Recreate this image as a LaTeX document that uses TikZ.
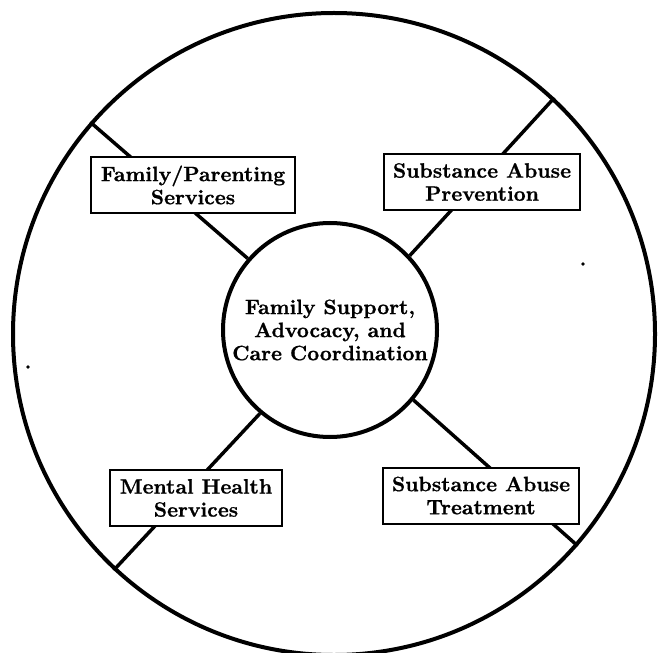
\documentclass[tikz,border=0pt]{standalone}
\usepackage{fontspec}
\setmainfont{lmroman10-regular.otf}[BoldFont=lmroman10-bold.otf,BoldFeatures={FakeBold=0.8}]
\begin{document}
\begin{tikzpicture}[x=0.75pt,y=-0.75pt,
  ring/.style={circle,draw,inner sep=0pt,line width=3pt},
  spoke/.style={line width=2.6pt},
  labelfont/.style={font=\fontsize{15.6}{17.3}\selectfont\bfseries},
  svcbox/.style={draw,fill=white,line width=1.5pt,align=center,inner xsep=7pt,inner ysep=0pt,minimum height=42pt,labelfont},
  dot/.style={circle,fill,inner sep=0pt,minimum size=2.8pt}]
\useasboundingbox (0,0) rectangle (659,652);
\node[ring,minimum size=481.5pt] (outer) at (334,334) {};
\node[ring,minimum size=160.5pt,fill=white,align=center,labelfont] (inner) at (330,330)
  {Family Support,\\Advocacy, and\\Care Coordination};
\draw[spoke] (inner.139) -- (outer.139);
\draw[spoke] (inner.43) -- (outer.47);
\draw[spoke] (inner.230) -- (outer.227);
\draw[spoke] (inner.320) -- (outer.319.5);
\node[svcbox] (fam) at (193,185) {Family/Parenting\\Services};
\node[svcbox] (prev) at (482,182) {Substance Abuse\\Prevention};
\node[svcbox] (mh) at (196,498) {Mental Health\\Services};
\node[svcbox] (treat) at (481,495.5) {Substance Abuse\\Treatment};
\node[dot] (d1) at (583,264) {};
\node[dot] (d2) at (28,367) {};
\end{tikzpicture}
\end{document}
